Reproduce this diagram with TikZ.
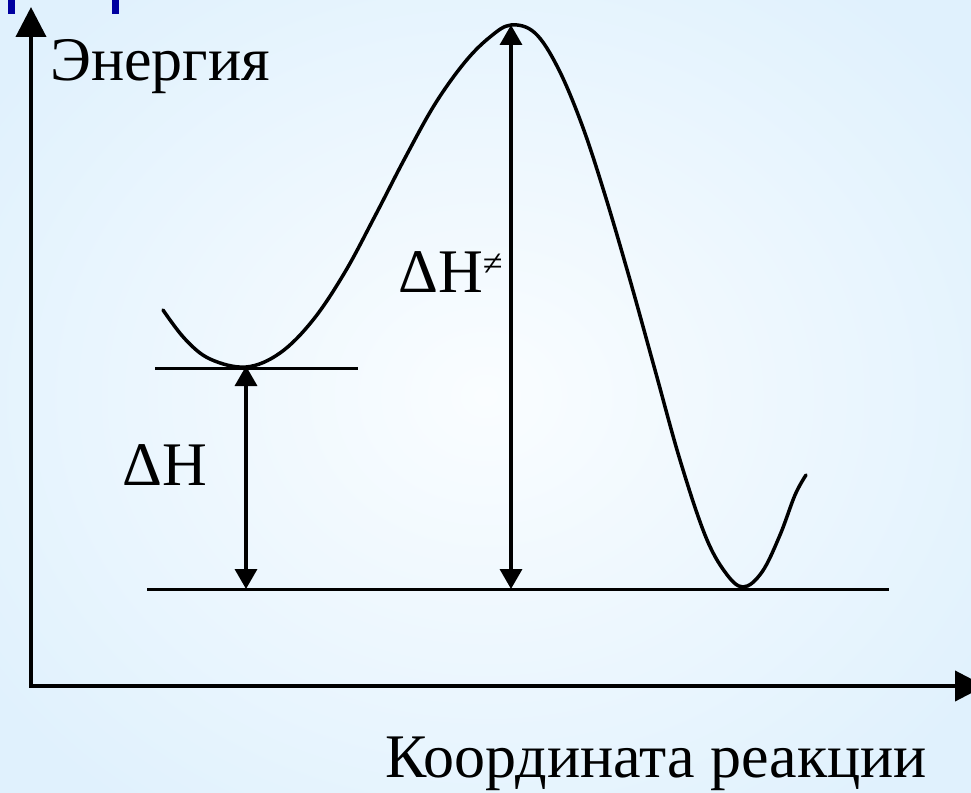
\documentclass[tikz,border=0pt]{standalone}
\usepackage{fontspec}
\setmainfont{Liberation Serif}
\usetikzlibrary{positioning, arrows.meta, calc}

\definecolor{bginner}{RGB}{250,253,255}
\definecolor{bgouter}{RGB}{224,241,253}
\definecolor{titleblue}{RGB}{0,0,160}

\begin{document}
\begin{tikzpicture}[
  x=1pt, y=-1pt,
  lbl/.style={anchor=base west, inner sep=0pt, font=\fontsize{62}{70}\selectfont},
  axis/.style={line width=4pt, -{Triangle[length=30pt, width=30pt]}},
  level/.style={line width=3pt},
  gap/.style={line width=3.5pt, {Triangle[length=20pt, width=22pt]}-{Triangle[length=20pt, width=22pt]}},
  curve/.style={line width=3.5pt, line join=round, line cap=round}
]
  \useasboundingbox (0,0) rectangle (971,792);
  \shade[inner color=bginner, outer color=bgouter] (-120,-120) rectangle (1091,912);
  % cut-off title
  \fill[titleblue] (8,0) rectangle (15,14);
  \fill[titleblue] (112,0) rectangle (119,14);

  % axes
  \coordinate (origin) at (31,686);
  \coordinate (ytip) at (31,7);
  \coordinate (xtip) at (985,686);
  \draw[axis] (origin) -- (ytip);
  \draw[axis] ($(origin)+(-2,0)$) -- (xtip);

  \node[lbl] (energy) at (50,80) {Энергия};
  \node[lbl] (coord) at (385,777) {Координата реакции};

  % levels
  \coordinate (startL) at (155,368);
  \coordinate (startR) at (358,368);
  \coordinate (endL) at (147,589);
  \coordinate (endR) at (889,589);
  \draw[level] (startL) -- (startR);
  \draw[level] (endL) -- (endR);

  % energy profile
  \draw[curve] plot[smooth, tension=0.6] coordinates {
    (163,310) (185,339) (210,359) (246,367) (280,353)
    (313,320) (345,272) (375,216) (405,158) (435,104) (465,62) (490,37)
    (511,25) (535,33) (558,68) (582,125) (605,195) (630,280) (655,370)
    (680,460) (705,535) (725,572) (743,587) (762,572) (780,535)
    (795,495) (806,475)};

  % arrows
  \coordinate (minA) at (246,366);
  \coordinate (baseA) at (246,589);
  \coordinate (peak) at (511,25);
  \coordinate (baseB) at (511,589);
  \draw[gap] (minA) -- (baseA);
  \draw[gap] (peak) -- (baseB);

  \node[lbl] (dH) at (122,485) {ΔH};
  \node[lbl] (dHa) at (398,292) {ΔH{\fontsize{36}{40}\selectfont\raisebox{17pt}{≠}}};
\end{tikzpicture}
\end{document}
